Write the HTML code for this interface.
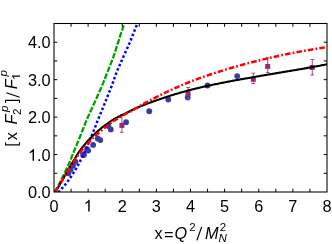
<!DOCTYPE html>
<html><head><meta charset="utf-8"><title>plot</title>
<style>
html,body{margin:0;padding:0;background:#fff;}
body{width:332px;height:244px;overflow:hidden;}
svg{display:block;will-change:transform;opacity:0.999;}
text{font-family:"Liberation Sans",sans-serif;fill:#000;}
.it{font-style:italic;}
</style></head><body>
<svg width="332" height="244" viewBox="0 0 332 244">
<rect width="332" height="244" fill="#fff"/>
<defs><clipPath id="c"><rect x="54.0" y="23.5" width="273.0" height="168.5"/></clipPath></defs>
<g fill="#3c3ca0">
<circle cx="68.3" cy="173.3" r="2.9"/>
<circle cx="70.6" cy="169.8" r="2.9"/>
<circle cx="73" cy="165.8" r="2.9"/>
<circle cx="75.5" cy="161.8" r="2.9"/>
<circle cx="83.1" cy="155" r="2.9"/>
<circle cx="88.2" cy="150.6" r="2.9"/>
<circle cx="84" cy="154.8" r="2.9"/>
<circle cx="87.1" cy="149.1" r="2.9"/>
<circle cx="93.1" cy="144.9" r="2.9"/>
<circle cx="97.8" cy="138.5" r="2.9"/>
<circle cx="100.3" cy="140.1" r="2.9"/>
<circle cx="110.8" cy="129.4" r="2.9"/>
<circle cx="108.4" cy="126.0" r="2.9"/>
<circle cx="126.1" cy="122.2" r="2.9"/>
<circle cx="149.25" cy="111.25" r="2.9"/>
<circle cx="168.25" cy="99.5" r="2.9"/>
<circle cx="187.7" cy="97.5" r="2.9"/>
<circle cx="207.5" cy="85.5" r="2.9"/>
<circle cx="237.2" cy="76.1" r="2.9"/>
</g>
<g fill="#902c72" stroke="#a03c86" stroke-width="0.95">
<path d="M121.9,114.6V132.3M120.10000000000001,114.6H123.7M120.10000000000001,132.3H123.7" fill="none"/>
<rect x="119.4" y="122.9" width="5" height="5" stroke="none"/>
<path d="M188.1,87.4V99M186.29999999999998,87.4H189.9M186.29999999999998,99H189.9" fill="none"/>
<rect x="185.6" y="91.1" width="5" height="5" stroke="none"/>
<path d="M253.3,73.2V83.6M251.5,73.2H255.10000000000002M251.5,83.6H255.10000000000002" fill="none"/>
<rect x="250.8" y="76.75" width="5" height="5" stroke="none"/>
<path d="M267.7,57.8V72.5M265.9,57.8H269.5M265.9,72.5H269.5" fill="none"/>
<rect x="265.2" y="63.900000000000006" width="5" height="5" stroke="none"/>
<path d="M312.25,59.5V75M310.45,59.5H314.05M310.45,75H314.05" fill="none"/>
<rect x="309.75" y="65.0" width="5" height="5" stroke="none"/>
</g>
<g clip-path="url(#c)" fill="none" stroke-linecap="butt" stroke-linejoin="round">
<path d="M54.52,192.17 L54.83,191.61 L55.15,191.06 L55.47,190.51 L55.79,189.95 L56.11,189.40 L56.43,188.84 L56.75,188.29 L57.07,187.74 L57.39,187.18 L57.71,186.63 L58.03,186.07 L58.32,185.52 L58.60,184.96 L58.88,184.41 L59.17,183.85 L59.45,183.29 L59.73,182.74 L60.01,182.18 L60.29,181.63 L60.58,181.07 L60.86,180.51 L61.14,179.96 L61.42,179.40 L61.70,178.84 L61.98,178.29 L62.26,177.73 L62.54,177.17 L62.82,176.61 L63.09,176.06 L63.36,175.50 L63.63,174.94 L63.90,174.38 L64.16,173.82 L64.43,173.27 L64.69,172.71 L64.96,172.15 L65.23,171.59 L65.49,171.03 L65.76,170.47 L66.02,169.91 L66.28,169.35 L66.55,168.79 L66.81,168.23 L67.08,167.67 L67.34,167.11 L67.60,166.55 L67.86,165.99 L68.13,165.43 L68.39,164.87 L68.65,164.31 L68.90,163.75 L69.13,163.19 L69.37,162.63 L69.60,162.07 L69.83,161.51 L70.06,160.95 L70.29,160.38 L70.53,159.82 L70.76,159.26 L70.99,158.70 L71.22,158.14 L71.45,157.57 L71.68,157.01 L71.91,156.45 L72.14,155.89 L72.37,155.32 L72.60,154.76 L72.83,154.20 L73.05,153.63 L73.28,153.07 L73.51,152.51 L73.74,151.94 L73.96,151.38 L74.19,150.82 L74.42,150.25 L74.65,149.69 L74.89,149.12 L75.12,148.56 L75.36,147.99 L75.59,147.43 L75.82,146.86 L76.06,146.30 L76.29,145.73 L76.53,145.17 L76.76,144.60 L76.99,144.04 L77.23,143.47 L77.46,142.91 L77.69,142.34 L77.92,141.77 L78.15,141.21 L78.39,140.64 L78.62,140.08 L78.85,139.51 L79.08,138.94 L79.31,138.38 L79.54,137.81 L79.77,137.24 L80.00,136.67 L80.23,136.11 L80.45,135.54 L80.68,134.97 L80.91,134.40 L81.14,133.84 L81.37,133.27 L81.59,132.70 L81.82,132.13 L82.05,131.56 L82.28,131.00 L82.50,130.43 L82.73,129.86 L82.95,129.29 L83.18,128.72 L83.40,128.15 L83.63,127.58 L83.85,127.01 L84.08,126.44 L84.30,125.87 L84.53,125.30 L84.75,124.73 L84.97,124.16 L85.20,123.59 L85.42,123.02 L85.64,122.45 L85.86,121.88 L86.09,121.31 L86.31,120.74 L86.53,120.17 L86.78,119.60 L87.05,119.03 L87.31,118.46 L87.58,117.89 L87.84,117.32 L88.11,116.74 L88.37,116.17 L88.64,115.60 L88.90,115.03 L89.16,114.46 L89.43,113.89 L89.69,113.31 L89.95,112.74 L90.22,112.17 L90.48,111.60 L90.74,111.02 L91.00,110.45 L91.26,109.88 L91.53,109.31 L91.79,108.73 L92.05,108.16 L92.31,107.59 L92.57,107.01 L92.83,106.44 L93.09,105.86 L93.35,105.29 L93.61,104.72 L93.86,104.14 L94.12,103.57 L94.38,102.99 L94.64,102.42 L94.90,101.85 L95.15,101.27 L95.41,100.70 L95.67,100.12 L95.93,99.55 L96.18,98.97 L96.44,98.40 L96.69,97.82 L96.95,97.25 L97.20,96.67 L97.46,96.10 L97.71,95.52 L97.97,94.94 L98.22,94.37 L98.48,93.79 L98.73,93.22 L98.98,92.64 L99.24,92.06 L99.49,91.49 L99.74,90.91 L100.00,90.33 L100.25,89.76 L100.50,89.18 L100.75,88.60 L101.00,88.03 L101.25,87.45 L101.50,86.87 L101.75,86.29 L102.00,85.72 L102.25,85.14 L102.49,84.56 L102.73,83.98 L102.96,83.41 L103.20,82.83 L103.43,82.25 L103.67,81.67 L103.90,81.09 L104.14,80.51 L104.37,79.94 L104.60,79.36 L104.83,78.78 L105.07,78.20 L105.30,77.62 L105.53,77.04 L105.76,76.46 L105.99,75.88 L106.23,75.30 L106.46,74.72 L106.69,74.15 L106.92,73.57 L107.15,72.99 L107.38,72.41 L107.61,71.83 L107.84,71.25 L108.07,70.67 L108.29,70.09 L108.52,69.51 L108.75,68.93 L108.98,68.34 L109.21,67.76 L109.43,67.18 L109.66,66.60 L109.89,66.02 L110.12,65.44 L110.34,64.86 L110.57,64.28 L110.79,63.70 L111.02,63.12 L111.24,62.53 L111.47,61.95 L111.69,61.37 L111.92,60.79 L112.14,60.21 L112.37,59.63 L112.59,59.04 L112.81,58.46 L113.04,57.88 L113.26,57.30 L113.47,56.71 L113.66,56.13 L113.85,55.55 L114.05,54.97 L114.24,54.38 L114.43,53.80 L114.63,53.22 L114.82,52.64 L115.01,52.05 L115.20,51.47 L115.39,50.89 L115.58,50.30 L115.77,49.72 L115.96,49.14 L116.15,48.55 L116.34,47.97 L116.53,47.38 L116.72,46.80 L116.91,46.22 L117.10,45.63 L117.29,45.05 L117.48,44.46 L117.67,43.88 L117.85,43.30 L118.04,42.71 L118.23,42.13 L118.42,41.54 L118.60,40.96 L118.79,40.37 L118.97,39.79 L119.16,39.20 L119.35,38.62 L119.53,38.03 L119.72,37.45 L119.90,36.86 L120.08,36.28 L120.27,35.69 L120.45,35.10 L120.65,34.52 L120.85,33.93 L121.05,33.35 L121.25,32.76 L121.44,32.18 L121.64,31.59 L121.84,31.00 L122.04,30.42 L122.23,29.83 L122.43,29.24 L122.63,28.66 L122.82,28.07 L123.02,27.49 L123.22,26.90 L123.41,26.31 L123.61,25.72 L123.80,25.14 L124.00,24.55 L124.19,23.96 L124.39,23.38 L124.58,22.79 L124.77,22.20 L124.97,21.61 L125.16,21.03" stroke="#00a000" stroke-width="2.3" stroke-dasharray="5.7,1.6"/>
<path d="M58.25,192.44 L58.68,191.97 L59.13,191.50 L59.58,191.02 L60.02,190.55 L60.46,190.07 L60.89,189.59 L61.33,189.11 L61.76,188.63 L62.19,188.14 L62.62,187.65 L63.04,187.17 L63.46,186.67 L63.88,186.18 L64.30,185.69 L64.71,185.19 L65.12,184.70 L65.53,184.20 L65.92,183.70 L66.31,183.20 L66.69,182.69 L67.07,182.19 L67.45,181.68 L67.82,181.18 L68.20,180.67 L68.57,180.15 L68.94,179.64 L69.30,179.13 L69.67,178.61 L70.03,178.10 L70.39,177.58 L70.74,177.06 L71.10,176.54 L71.45,176.02 L71.80,175.49 L72.15,174.97 L72.49,174.44 L72.84,173.91 L73.18,173.38 L73.52,172.85 L73.86,172.32 L74.19,171.79 L74.53,171.26 L74.86,170.72 L75.19,170.18 L75.52,169.65 L75.84,169.11 L76.17,168.57 L76.49,168.03 L76.79,167.49 L77.10,166.94 L77.39,166.40 L77.69,165.85 L77.99,165.31 L78.28,164.76 L78.57,164.21 L78.86,163.66 L79.15,163.11 L79.44,162.56 L79.72,162.00 L80.01,161.45 L80.29,160.90 L80.57,160.34 L80.85,159.78 L81.12,159.23 L81.40,158.67 L81.67,158.11 L81.95,157.55 L82.22,156.99 L82.49,156.43 L82.75,155.86 L83.02,155.30 L83.29,154.74 L83.55,154.17 L83.81,153.61 L84.08,153.04 L84.34,152.47 L84.60,151.90 L84.85,151.34 L85.11,150.77 L85.37,150.20 L85.63,149.63 L85.89,149.06 L86.15,148.48 L86.40,147.91 L86.66,147.34 L86.92,146.77 L87.17,146.19 L87.43,145.62 L87.68,145.04 L87.93,144.47 L88.19,143.89 L88.44,143.31 L88.69,142.74 L88.94,142.16 L89.18,141.58 L89.43,141.00 L89.68,140.42 L89.92,139.84 L90.17,139.26 L90.41,138.68 L90.66,138.10 L90.90,137.52 L91.14,136.94 L91.38,136.36 L91.62,135.78 L91.86,135.20 L92.10,134.61 L92.34,134.03 L92.58,133.45 L92.82,132.87 L93.05,132.28 L93.29,131.70 L93.52,131.11 L93.76,130.53 L93.99,129.94 L94.22,129.36 L94.46,128.77 L94.69,128.19 L94.92,127.60 L95.15,127.01 L95.38,126.43 L95.61,125.84 L95.84,125.25 L96.07,124.66 L96.30,124.08 L96.52,123.49 L96.75,122.90 L96.98,122.31 L97.20,121.72 L97.43,121.13 L97.65,120.54 L97.88,119.95 L98.13,119.36 L98.38,118.77 L98.63,118.18 L98.88,117.59 L99.13,117.00 L99.37,116.41 L99.62,115.82 L99.87,115.22 L100.12,114.63 L100.36,114.04 L100.61,113.45 L100.86,112.86 L101.10,112.26 L101.35,111.67 L101.59,111.08 L101.83,110.48 L102.08,109.89 L102.32,109.30 L102.56,108.70 L102.81,108.11 L103.05,107.52 L103.29,106.92 L103.53,106.33 L103.77,105.73 L104.01,105.14 L104.26,104.54 L104.50,103.95 L104.74,103.35 L104.98,102.76 L105.22,102.16 L105.45,101.57 L105.69,100.97 L105.93,100.37 L106.17,99.78 L106.41,99.18 L106.65,98.59 L106.88,97.99 L107.12,97.39 L107.36,96.80 L107.60,96.20 L107.83,95.60 L108.07,95.01 L108.31,94.41 L108.54,93.81 L108.78,93.22 L109.02,92.62 L109.25,92.02 L109.49,91.43 L109.72,90.83 L109.96,90.23 L110.19,89.63 L110.43,89.04 L110.66,88.44 L110.90,87.84 L111.13,87.25 L111.37,86.65 L111.60,86.05 L111.84,85.45 L112.07,84.86 L112.28,84.26 L112.50,83.66 L112.71,83.06 L112.93,82.47 L113.14,81.87 L113.35,81.27 L113.57,80.67 L113.78,80.08 L114.00,79.48 L114.21,78.88 L114.43,78.28 L114.64,77.69 L114.85,77.09 L115.07,76.49 L115.28,75.89 L115.50,75.30 L115.71,74.70 L115.93,74.10 L116.14,73.51 L116.36,72.91 L116.57,72.31 L116.81,71.72 L117.07,71.12 L117.33,70.52 L117.59,69.93 L117.85,69.33 L118.11,68.73 L118.37,68.14 L118.63,67.54 L118.89,66.94 L119.15,66.35 L119.41,65.75 L119.67,65.16 L119.93,64.56 L120.19,63.97 L120.45,63.37 L120.71,62.77 L120.98,62.18 L121.24,61.58 L121.50,60.99 L121.76,60.40 L122.03,59.80 L122.29,59.21 L122.55,58.61 L122.82,58.02 L123.08,57.42 L123.34,56.83 L123.61,56.24 L123.87,55.64 L124.14,55.05 L124.40,54.46 L124.67,53.86 L124.93,53.27 L125.20,52.68 L125.47,52.09 L125.73,51.50 L126.00,50.90 L126.27,50.31 L126.53,49.72 L126.80,49.13 L127.07,48.54 L127.34,47.95 L127.61,47.36 L127.88,46.77 L128.15,46.18 L128.42,45.59 L128.69,45.00 L128.96,44.41 L129.23,43.82 L129.51,43.23 L129.78,42.64 L130.05,42.05 L130.28,41.47 L130.50,40.88 L130.73,40.29 L130.95,39.70 L131.18,39.12 L131.40,38.53 L131.63,37.95 L131.85,37.36 L132.08,36.77 L132.31,36.19 L132.54,35.60 L132.77,35.02 L133.00,34.43 L133.23,33.85 L133.46,33.27 L133.69,32.68 L133.92,32.10 L134.15,31.52 L134.39,30.94 L134.62,30.35 L134.85,29.77 L135.09,29.19 L135.32,28.61 L135.56,28.03 L135.80,27.45 L136.03,26.87 L136.27,26.29 L136.51,25.71 L136.75,25.13 L136.99,24.55 L137.23,23.98 L137.47,23.40 L137.72,22.82 L137.96,22.24 L138.20,21.67 L138.45,21.09" stroke="#0000ff" stroke-width="2.5" stroke-dasharray="2.5,2.2"/>
<path d="M54.94,192.47 L55.49,191.60 L56.05,190.73 L56.60,189.86 L57.15,188.97 L57.69,188.09 L58.24,187.19 L58.77,186.29 L59.31,185.39 L59.84,184.49 L60.38,183.58 L60.91,182.66 L61.44,181.74 L61.96,180.82 L62.49,179.90 L63.02,178.97 L63.54,178.04 L64.07,177.11 L64.59,176.18 L65.12,175.25 L65.65,174.31 L66.17,173.38 L66.70,172.44 L67.23,171.51 L67.76,170.57 L68.30,169.64 L68.83,168.70 L69.37,167.77 L69.91,166.84 L70.45,165.91 L71.00,164.98 L71.55,164.06 L72.10,163.13 L72.66,162.21 L73.22,161.30 L73.78,160.39 L74.35,159.44 L74.93,158.48 L75.51,157.52 L76.09,156.56 L76.68,155.61 L77.28,154.67 L77.88,153.73 L78.49,152.79 L79.11,151.86 L79.73,150.94 L80.36,150.05 L81.00,149.19 L81.64,148.34 L82.29,147.49 L82.95,146.65 L83.62,145.82 L84.29,145.00 L84.98,144.18 L85.66,143.37 L86.36,142.57 L87.06,141.77 L87.77,140.98 L88.49,140.20 L89.21,139.42 L89.94,138.65 L90.68,137.89 L91.42,137.13 L92.17,136.38 L92.92,135.64 L93.69,134.90 L94.45,134.17 L95.23,133.45 L96.01,132.73 L96.79,132.02 L97.58,131.32 L98.38,130.62 L99.19,129.93 L99.99,129.24 L100.81,128.58 L101.63,127.92 L102.45,127.27 L103.28,126.63 L104.12,125.99 L104.96,125.35 L105.80,124.73 L106.65,124.11 L107.51,123.49 L108.37,122.88 L109.23,122.28 L110.10,121.68 L110.97,121.09 L111.85,120.50 L112.73,119.98 L113.62,119.47 L114.51,118.97 L115.41,118.48 L116.31,117.99 L117.21,117.50 L118.11,117.02 L119.03,116.55 L119.94,116.08 L120.86,115.62 L121.78,115.17 L122.70,114.71 L123.63,114.27 L124.56,113.83 L125.50,113.36 L126.43,112.87 L127.37,112.39 L128.32,111.91 L129.26,111.44 L130.21,110.97 L131.17,110.50 L132.12,110.05 L133.08,109.60 L134.04,109.17 L135.00,108.74 L135.96,108.31 L136.93,107.88 L137.90,107.47 L138.87,107.05 L139.84,106.64 L140.82,106.24 L141.79,105.83 L142.77,105.44 L143.75,105.04 L144.73,104.66 L145.71,104.27 L146.70,103.89 L147.68,103.51 L148.67,103.14 L149.66,102.77 L150.65,102.41 L151.64,102.05 L152.63,101.69 L153.62,101.33 L154.61,100.98 L155.61,100.64 L156.60,100.30 L157.60,99.96 L158.60,99.62 L159.60,99.29 L160.60,98.95 L161.60,98.60 L162.60,98.25 L163.60,97.91 L164.61,97.57 L165.61,97.23 L166.62,96.90 L167.62,96.57 L168.63,96.24 L169.64,95.92 L170.65,95.60 L171.66,95.28 L172.67,94.97 L173.69,94.66 L174.70,94.35 L175.71,94.05 L176.73,93.74 L177.75,93.45 L178.76,93.15 L179.78,92.86 L180.80,92.57 L181.82,92.28 L182.84,92.00 L183.86,91.72 L184.88,91.44 L185.91,91.16 L186.93,90.89 L187.96,90.62 L188.98,90.35 L190.01,90.08 L191.03,89.82 L192.06,89.56 L193.09,89.29 L194.12,89.04 L195.15,88.78 L196.18,88.53 L197.21,88.27 L198.24,88.03 L199.27,87.78 L200.31,87.53 L201.34,87.29 L202.37,87.05 L203.41,86.81 L204.44,86.58 L205.48,86.35 L206.52,86.11 L207.55,85.89 L208.59,85.66 L209.63,85.43 L210.67,85.21 L211.71,84.99 L212.75,84.77 L213.79,84.55 L214.83,84.34 L215.87,84.12 L216.91,83.91 L217.95,83.70 L219.00,83.49 L220.04,83.28 L221.08,83.07 L222.13,82.86 L223.17,82.65 L224.22,82.44 L225.26,82.24 L226.31,82.03 L227.35,81.83 L228.40,81.63 L229.45,81.43 L230.49,81.23 L231.54,81.03 L232.59,80.84 L233.64,80.64 L234.69,80.45 L235.73,80.25 L236.78,80.06 L237.83,79.87 L238.88,79.68 L239.93,79.50 L240.98,79.31 L242.03,79.12 L243.08,78.94 L244.13,78.75 L245.18,78.57 L246.23,78.39 L247.28,78.21 L248.34,78.03 L249.39,77.85 L250.44,77.67 L251.49,77.48 L252.54,77.29 L253.59,77.11 L254.65,76.93 L255.70,76.74 L256.75,76.56 L257.80,76.38 L258.85,76.19 L259.91,76.01 L260.96,75.83 L262.01,75.65 L263.06,75.47 L264.11,75.29 L265.17,75.11 L266.22,74.93 L267.27,74.75 L268.32,74.58 L269.38,74.40 L270.43,74.22 L271.48,74.04 L272.53,73.86 L273.58,73.69 L274.64,73.51 L275.69,73.33 L276.74,73.15 L277.79,72.97 L278.84,72.80 L279.89,72.62 L280.94,72.44 L281.99,72.26 L283.04,72.08 L284.10,71.90 L285.15,71.73 L286.20,71.55 L287.24,71.38 L288.29,71.21 L289.34,71.04 L290.39,70.86 L291.44,70.69 L292.49,70.52 L293.54,70.34 L294.59,70.17 L295.63,69.99 L296.68,69.82 L297.73,69.64 L298.77,69.46 L299.82,69.28 L300.86,69.10 L301.91,68.92 L302.96,68.74 L304.00,68.56 L305.04,68.38 L306.09,68.20 L307.13,68.01 L308.17,67.83 L309.22,67.64 L310.26,67.46 L311.30,67.27 L312.34,67.08 L313.38,66.89 L314.42,66.70 L315.46,66.50 L316.50,66.31 L317.54,66.11 L318.58,65.92 L319.61,65.72 L320.65,65.52 L321.69,65.32 L322.72,65.12 L323.76,64.92 L324.79,64.71 L325.82,64.51 L326.86,64.30 L327.89,64.09" stroke="#000" stroke-width="2.1"/>
<path d="M54.75,192.36 L55.34,191.47 L55.91,190.57 L56.49,189.67 L57.06,188.77 L57.63,187.86 L58.20,186.96 L58.76,186.05 L59.33,185.13 L59.89,184.22 L60.44,183.30 L61.00,182.38 L61.56,181.46 L62.11,180.54 L62.67,179.61 L63.22,178.69 L63.77,177.76 L64.33,176.84 L64.88,175.91 L65.44,174.99 L65.99,174.06 L66.55,173.13 L67.10,172.21 L67.66,171.28 L68.22,170.36 L68.79,169.44 L69.35,168.52 L69.92,167.60 L70.49,166.68 L71.06,165.77 L71.64,164.85 L72.21,163.94 L72.80,163.04 L73.38,162.13 L73.97,161.23 L74.57,160.33 L75.17,159.44 L75.77,158.55 L76.38,157.66 L77.00,156.78 L77.62,155.90 L78.25,155.03 L78.88,154.16 L79.52,153.29 L80.17,152.44 L80.82,151.59 L81.48,150.75 L82.14,149.92 L82.82,149.09 L83.50,148.27 L84.19,147.45 L84.88,146.64 L85.59,145.84 L86.29,145.04 L87.01,144.25 L87.73,143.46 L88.46,142.68 L89.19,141.90 L89.94,141.13 L90.68,140.37 L91.44,139.61 L92.19,138.85 L92.96,138.11 L93.73,137.36 L94.50,136.63 L95.29,135.89 L96.07,135.17 L96.86,134.44 L97.66,133.73 L98.46,133.02 L99.27,132.31 L100.08,131.61 L100.90,130.90 L101.72,130.20 L102.55,129.51 L103.38,128.82 L104.21,128.13 L105.05,127.45 L105.89,126.78 L106.74,126.11 L107.59,125.44 L108.44,124.78 L109.30,124.12 L110.17,123.47 L111.03,122.82 L111.90,122.18 L112.77,121.61 L113.65,121.06 L114.53,120.51 L115.41,119.96 L116.29,119.42 L117.18,118.88 L118.07,118.35 L118.96,117.82 L119.85,117.30 L120.75,116.78 L121.65,116.27 L122.55,115.76 L123.46,115.25 L124.37,114.75 L125.28,114.25 L126.19,113.75 L127.10,113.25 L128.02,112.76 L128.94,112.27 L129.86,111.78 L130.78,111.30 L131.70,110.82 L132.63,110.28 L133.56,109.72 L134.49,109.15 L135.42,108.59 L136.36,108.04 L137.29,107.48 L138.23,106.93 L139.17,106.39 L140.11,105.84 L141.06,105.30 L142.00,104.77 L142.95,104.23 L143.90,103.70 L144.85,103.17 L145.80,102.65 L146.75,102.12 L147.71,101.60 L148.66,101.09 L149.62,100.57 L150.58,100.06 L151.54,99.55 L152.50,99.05 L153.46,98.55 L154.42,98.05 L155.39,97.55 L156.35,97.05 L157.32,96.56 L158.29,96.07 L159.26,95.59 L160.23,95.10 L161.20,94.62 L162.18,94.15 L163.15,93.67 L164.13,93.20 L165.11,92.73 L166.09,92.26 L167.07,91.80 L168.05,91.34 L169.03,90.88 L170.01,90.42 L171.00,89.97 L171.98,89.52 L172.97,89.07 L173.96,88.62 L174.95,88.18 L175.94,87.74 L176.93,87.30 L177.92,86.86 L178.91,86.43 L179.91,86.00 L180.90,85.57 L181.90,85.15 L182.90,84.72 L183.90,84.30 L184.90,83.88 L185.90,83.47 L186.90,83.05 L187.90,82.64 L188.91,82.23 L189.91,81.83 L190.92,81.44 L191.93,81.06 L192.93,80.67 L193.94,80.29 L194.95,79.92 L195.96,79.54 L196.98,79.17 L197.99,78.80 L199.00,78.43 L200.02,78.06 L201.03,77.70 L202.05,77.34 L203.07,76.98 L204.08,76.62 L205.10,76.27 L206.12,75.92 L207.14,75.57 L208.17,75.22 L209.19,74.88 L210.21,74.53 L211.24,74.19 L212.26,73.85 L213.29,73.52 L214.31,73.18 L215.34,72.85 L216.37,72.52 L217.40,72.19 L218.43,71.87 L219.46,71.55 L220.49,71.22 L221.52,70.90 L222.55,70.57 L223.58,70.25 L224.62,69.93 L225.65,69.61 L226.69,69.30 L227.72,68.98 L228.76,68.67 L229.80,68.36 L230.84,68.06 L231.87,67.75 L232.91,67.45 L233.95,67.15 L234.99,66.85 L236.03,66.55 L237.08,66.26 L238.12,65.96 L239.16,65.67 L240.20,65.38 L241.25,65.10 L242.29,64.81 L243.34,64.53 L244.38,64.25 L245.43,63.97 L246.48,63.69 L247.52,63.41 L248.57,63.14 L249.62,62.87 L250.67,62.59 L251.72,62.32 L252.77,62.04 L253.82,61.77 L254.87,61.50 L255.92,61.23 L256.97,60.96 L258.02,60.70 L259.07,60.43 L260.12,60.17 L261.18,59.91 L262.23,59.65 L263.28,59.39 L264.34,59.14 L265.39,58.89 L266.45,58.63 L267.50,58.39 L268.56,58.14 L269.61,57.89 L270.67,57.65 L271.73,57.40 L272.78,57.16 L273.84,56.92 L274.90,56.68 L275.96,56.45 L277.01,56.21 L278.07,55.98 L279.13,55.75 L280.19,55.52 L281.25,55.29 L282.31,55.06 L283.37,54.84 L284.42,54.61 L285.48,54.39 L286.54,54.18 L287.60,53.97 L288.66,53.76 L289.72,53.55 L290.79,53.35 L291.85,53.14 L292.91,52.94 L293.97,52.73 L295.03,52.53 L296.09,52.33 L297.15,52.14 L298.21,51.94 L299.27,51.75 L300.34,51.55 L301.40,51.36 L302.46,51.17 L303.52,50.98 L304.58,50.79 L305.64,50.61 L306.71,50.42 L307.77,50.24 L308.83,50.05 L309.89,49.87 L310.95,49.69 L312.01,49.51 L313.08,49.34 L314.14,49.16 L315.20,48.98 L316.26,48.81 L317.32,48.64 L318.38,48.47 L319.45,48.30 L320.51,48.13 L321.57,47.96 L322.63,47.80 L323.69,47.63 L324.75,47.47 L325.81,47.30 L326.87,47.14 L327.93,46.98" stroke="#ff0000" stroke-width="2.5" stroke-dasharray="5.6,2.1,1.8,2.1"/>
</g>
<rect x="54.0" y="23.5" width="273.0" height="168.5" fill="none" stroke="#000" stroke-width="1.05"/>
<path d="M71.06,192.0v-3.3M71.06,23.5v3.3M88.12,192.0v-3.3M88.12,23.5v3.3M105.19,192.0v-3.3M105.19,23.5v3.3M122.25,192.0v-3.3M122.25,23.5v3.3M139.31,192.0v-3.3M139.31,23.5v3.3M156.38,192.0v-3.3M156.38,23.5v3.3M173.44,192.0v-3.3M173.44,23.5v3.3M190.50,192.0v-3.3M190.50,23.5v3.3M207.56,192.0v-3.3M207.56,23.5v3.3M224.62,192.0v-3.3M224.62,23.5v3.3M241.69,192.0v-3.3M241.69,23.5v3.3M258.75,192.0v-3.3M258.75,23.5v3.3M275.81,192.0v-3.3M275.81,23.5v3.3M292.88,192.0v-3.3M292.88,23.5v3.3M309.94,192.0v-3.3M309.94,23.5v3.3M54.0,173.28h3.3M327.0,173.28h-3.3M54.0,154.56h3.3M327.0,154.56h-3.3M54.0,135.83h3.3M327.0,135.83h-3.3M54.0,117.11h3.3M327.0,117.11h-3.3M54.0,98.39h3.3M327.0,98.39h-3.3M54.0,79.67h3.3M327.0,79.67h-3.3M54.0,60.94h3.3M327.0,60.94h-3.3M54.0,42.22h3.3M327.0,42.22h-3.3" stroke="#000" stroke-width="1.0" fill="none"/>
<text x="54.00" y="211.5" font-size="16.3" text-anchor="middle">0</text>
<path d="M763,0H583V1147Q518,1085 412.5,1023T223,930V1104Q373,1174.5 485,1275T644,1470H763Z" transform="translate(83.59,211.50) scale(0.007959,-0.007959)" fill="#000" />
<text x="122.25" y="211.5" font-size="16.3" text-anchor="middle">2</text>
<text x="156.38" y="211.5" font-size="16.3" text-anchor="middle">3</text>
<text x="190.50" y="211.5" font-size="16.3" text-anchor="middle">4</text>
<text x="224.62" y="211.5" font-size="16.3" text-anchor="middle">5</text>
<text x="258.75" y="211.5" font-size="16.3" text-anchor="middle">6</text>
<text x="292.88" y="211.5" font-size="16.3" text-anchor="middle">7</text>
<text x="327.00" y="211.5" font-size="16.3" text-anchor="middle">8</text>
<text x="50.6" y="198.20" font-size="16.3" text-anchor="end">0.0</text>
<text x="50.6" y="160.76" font-size="16.3" text-anchor="end">.0</text>
<path d="M763,0H583V1147Q518,1085 412.5,1023T223,930V1104Q373,1174.5 485,1275T644,1470H763Z" transform="translate(27.94,160.76) scale(0.007959,-0.007959)" fill="#000" />
<text x="50.6" y="123.31" font-size="16.3" text-anchor="end">2.0</text>
<text x="50.6" y="85.87" font-size="16.3" text-anchor="end">3.0</text>
<text x="50.6" y="48.42" font-size="16.3" text-anchor="end">4.0</text>
<text font-size="16.3"><tspan x="154.5" y="238.8">x</tspan><tspan x="163.9" y="239.8">=</tspan><tspan class="it" x="174.6" y="238.8">Q</tspan><tspan x="189.3" y="231.2" font-size="11.5">2</tspan><tspan class="it" x="204.9" y="238.8">M</tspan><tspan x="219.7" y="230.6" font-size="11.5">2</tspan><tspan class="it" x="218.4" y="242.3" font-size="11.5">N</tspan></text><path d="M196.9,240.4 L201.7,226.9" stroke="#000" stroke-width="1.2" fill="none"/>
<g transform="translate(16.8,146.0) rotate(-90)"><text font-size="16.3"><tspan x="-0.8" y="0">[</tspan><tspan x="5.7" y="0">x</tspan><tspan class="it" x="21.4" y="0">F</tspan><tspan x="31" y="3.7" font-size="11.5">2</tspan><tspan class="it" x="34.1" y="-8.7" font-size="11.5">p</tspan><tspan x="42.9" y="0">]</tspan><tspan class="it" x="56.8" y="0">F</tspan><tspan class="it" x="69.6" y="-9.8" font-size="11.5">p</tspan></text><path d="M48.7,2.9 L53.2,-10.4" stroke="#000" stroke-width="1.2" fill="none"/><path d="M763,0H583V1147Q518,1085 412.5,1023T223,930V1104Q373,1174.5 485,1275T644,1470H763Z" transform="translate(66.10,3.20) scale(0.005615,-0.005615)" fill="#000" /></g>
</svg></body></html>
